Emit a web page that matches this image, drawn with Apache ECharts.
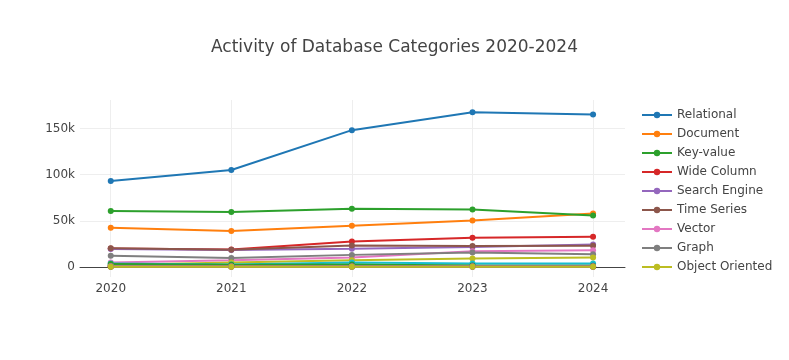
<!DOCTYPE html>
<html>
<head>
<meta charset="utf-8">
<script src="https://cdn.jsdelivr.net/npm/echarts@6/dist/echarts.min.js"></script>
<style>html,body{margin:0;padding:0;background:#fff;}#c{width:789px;height:360px;}</style>
</head>
<body>
<div id="c"></div>
<script>
const years = ['2020', '2021', '2022', '2023', '2024'];
const yTicks = [0, 50000, 100000, 150000];
const yTickLabels = ['0', '50k', '100k', '150k'];
const legendNames = ['Relational', 'Document', 'Key-value', 'Wide Column', 'Search Engine', 'Time Series', 'Vector', 'Graph', 'Object Oriented'];

const relational = [93200, 105000, 148300, 167800, 165200];
const documentDb = [42400, 38800, 44600, 50400, 58000];
const keyValue = [60500, 59500, 63000, 62300, 55800];
const wideColumn = [20000, 18900, 27600, 31500, 32600];
const searchEngine = [19500, 18200, 19600, 21500, 24300];
const timeSeries = [20300, 18500, 23200, 22600, 22800];
const vector = [4800, 7300, 10200, 16800, 18000];
const graph = [12000, 9600, 13000, 15600, 13800];
const objectOriented = [2000, 4800, 7300, 9100, 10200];
const spatial = [3600, 2600, 4800, 3700, 3700];
const rdf = [1500, 1200, 1600, 1300, 1100];
const multivalue = [800, 700, 600, 500, 500];
const nativeXml = [3000, 2200, 2500, 1600, 1300];
const eventStore = [300, 300, 400, 400, 300];
const content = [500, 400, 400, 300, 300];
const navigational = [200, 200, 200, 200, 200];
const multiModel = [600, 500, 500, 400, 400];
const columnar = [400, 300, 300, 300, 300];
const other = [100, 100, 100, 100, 100];

const seriesDefs = [
  ['Relational', relational], ['Document', documentDb], ['Key-value', keyValue],
  ['Wide Column', wideColumn], ['Search Engine', searchEngine], ['Time Series', timeSeries],
  ['Vector', vector], ['Graph', graph], ['Object Oriented', objectOriented],
  ['Spatial', spatial], ['RDF', rdf], ['Multivalue', multivalue], ['Native XML', nativeXml],
  ['Event Store', eventStore], ['Content', content], ['Navigational', navigational],
  ['Multi-model', multiModel], ['Columnar', columnar], ['Other', other]
];
const palette = ['#1f77b4', '#ff7f0e', '#2ca02c', '#d62728', '#9467bd', '#8c564b', '#e377c2', '#7f7f7f', '#bcbd22', '#17becf'];
const font = '"DejaVu Sans", Verdana, sans-serif';

const chart = echarts.init(document.getElementById('c'));
chart.setOption({
  animation: false,
  color: palette,
  title: {
    text: 'Activity of Database Categories 2020-2024',
    left: 'center', top: 34,
    textStyle: { fontFamily: font, fontSize: 17, fontWeight: 'normal', color: '#444' }
  },
  legend: {
    data: legendNames,
    orient: 'vertical',
    left: 641, top: 109,
    padding: 0,
    itemWidth: 30, itemHeight: 8, itemGap: 7,
    textStyle: { fontFamily: font, fontSize: 12, color: '#444' }
  },
  grid: { left: 80, right: 164, top: 100, bottom: 83, containLabel: false },
  xAxis: {
    type: 'value',
    min: -0.255, max: 4.265,
    axisLine: { show: true, onZero: true, lineStyle: { color: '#444', width: 1 } },
    axisTick: { show: false, customValues: [0, 1, 2, 3, 4] },
    axisLabel: {
      customValues: [0, 1, 2, 3, 4],
      formatter: v => years[Math.round(v)],
      fontFamily: font, fontSize: 12, color: '#444', margin: 6
    },
    splitLine: { show: true, lineStyle: { color: '#eee', width: 1 } }
  },
  yAxis: {
    type: 'value',
    min: -11000, max: 181000,
    axisLine: { show: false },
    axisTick: { show: false, customValues: yTicks },
    axisLabel: {
      customValues: yTicks,
      formatter: v => yTickLabels[yTicks.indexOf(v)],
      fontFamily: font, fontSize: 12, color: '#444', margin: 5
    },
    splitLine: { show: true, lineStyle: { color: '#eee', width: 1 } }
  },
  series: seriesDefs.map(([name, vals]) => ({
    name: name,
    type: 'line',
    data: vals.map((v, i) => [i, v]),
    symbol: 'circle',
    symbolSize: 6,
    showSymbol: true,
    lineStyle: { width: 2 },
    emphasis: { disabled: true }
  }))
});
</script>
</body>
</html>
